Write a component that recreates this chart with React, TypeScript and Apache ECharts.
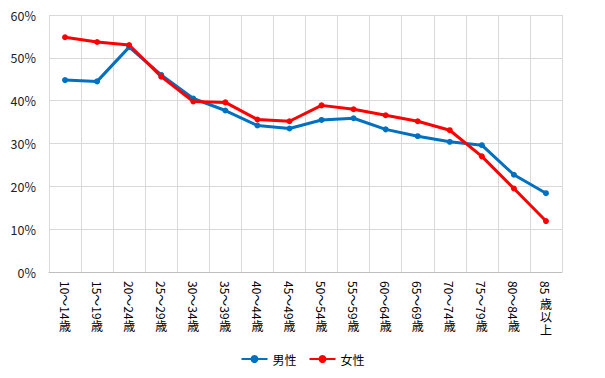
import React, { useEffect, useRef } from "react";
import * as echarts from "echarts";

const categories = [
  "10～14歳", "15～19歳", "20～24歳", "25～29歳", "30～34歳", "35～39歳",
  "40～44歳", "45～49歳", "50～54歳", "55～59歳", "60～64歳", "65～69歳",
  "70～74歳", "75～79歳", "80～84歳", "85歳以上",
];
const maleValues = [44.8, 44.5, 52.5, 46.0, 40.5, 37.7, 34.2, 33.5, 35.5, 35.9, 33.3, 31.7, 30.4, 29.6, 22.7, 18.4];
const femaleValues = [54.8, 53.7, 53.0, 45.6, 39.8, 39.6, 35.6, 35.2, 38.9, 38.0, 36.6, 35.2, 33.1, 27.0, 19.5, 11.9];

const FONT = "'Noto Sans CJK JP', 'Noto Sans', sans-serif";

// Split a category label into its sideways (Latin / digit) part and upright (CJK) part,
// imitating vertical Japanese writing.
const sidewaysPart = (s: string) => s.replace(/[歳以上]+$/, "");
const uprightPart = (s: string) => (s.match(/[歳以上]+$/) || [""])[0];
const isShort = (s: string) => sidewaysPart(s).length <= 2;

export default function App() {
  const ref = useRef<HTMLDivElement>(null);
  useEffect(() => {
    const chart = echarts.init(ref.current!, null, { renderer: "svg" });
    const uprightAxis = (margin: number, pick: (v: string) => string) => ({
      type: "category",
      data: categories,
      position: "bottom",
      boundaryGap: true,
      axisLine: { show: false },
      axisTick: { show: false },
      splitLine: { show: false },
      axisLabel: {
        interval: 0,
        margin,
        fontSize: 12,
        color: "#000",
        fontFamily: FONT,
        formatter: pick,
      },
    });
    chart.setOption({
      animation: false,
      textStyle: { fontFamily: FONT },
      grid: { left: 49, right: 43, top: 15, bottom: 106, containLabel: false },
      legend: {
        top: 348,
        left: "center",
        itemWidth: 26,
        itemHeight: 10,
        itemGap: 12,
        textStyle: { fontSize: 12, color: "#000", fontFamily: FONT },
        data: ["男性", "女性"],
      },
      xAxis: [
        {
          type: "category",
          data: categories,
          boundaryGap: true,
          axisLine: { lineStyle: { color: "#bfbfbf", width: 1 } },
          axisTick: { show: false },
          splitLine: { show: true, lineStyle: { color: "#d9d9d9", width: 1 } },
          axisLabel: {
            rotate: -90,
            interval: 0,
            margin: 9,
            fontSize: 12,
            color: "#000",
            fontFamily: FONT,
            formatter: (v: string) => sidewaysPart(v),
          },
        },
        uprightAxis(47, (v: string) => (isShort(v) ? "" : uprightPart(v))),
        uprightAxis(25, (v: string) => (isShort(v) ? uprightPart(v).charAt(0) : "")),
        uprightAxis(38, (v: string) => (isShort(v) ? uprightPart(v).charAt(1) : "")),
        uprightAxis(51, (v: string) => (isShort(v) ? uprightPart(v).charAt(2) : "")),
      ],
      yAxis: {
        type: "value",
        min: 0,
        max: 60,
        interval: 10,
        axisLine: { show: false },
        axisTick: { show: false },
        splitLine: { lineStyle: { color: "#d9d9d9", width: 1 } },
        axisLabel: {
          formatter: "{value}%",
          fontSize: 12.5,
          color: "#222",
          margin: 13,
          fontFamily: FONT,
        },
      },
      series: [
        {
          name: "男性",
          type: "line",
          data: maleValues,
          symbol: "circle",
          symbolSize: 6,
          lineStyle: { color: "#0070C0", width: 3 },
          itemStyle: { color: "#0070C0" },
        },
        {
          name: "女性",
          type: "line",
          data: femaleValues,
          symbol: "circle",
          symbolSize: 6,
          lineStyle: { color: "#FF0000", width: 3 },
          itemStyle: { color: "#FF0000" },
        },
      ],
    });
    return () => chart.dispose();
  }, []);
  return <div ref={ref} style={{ width: 605, height: 378, position: "absolute", left: 0, top: 0 }} />;
}
